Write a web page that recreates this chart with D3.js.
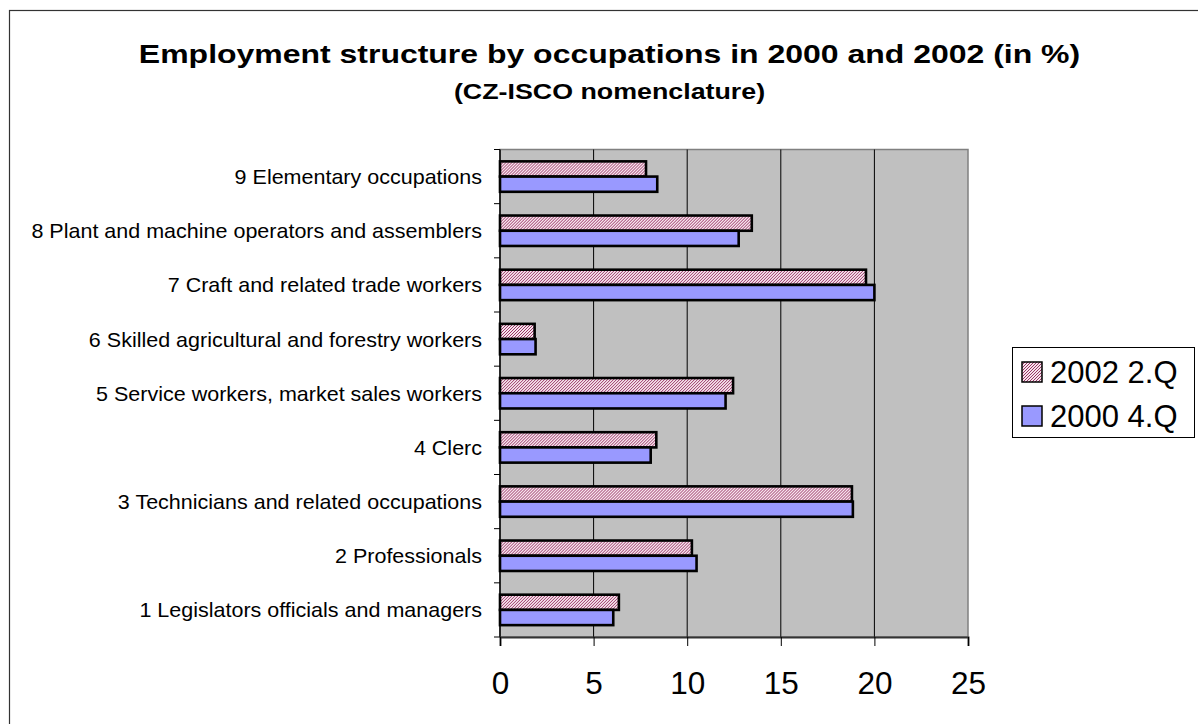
<!DOCTYPE html>
<meta charset="utf-8">
<style>
body { margin: 0; background: #fff; }
text { font-family: "Liberation Sans", Arial, sans-serif; fill: #000; }
</style>
<svg width="1198" height="724"></svg>
<script src="https://d3js.org/d3.v7.min.js"></script>
<script>

// categories top to bottom, as shown
var categories = [
  "9 Elementary occupations",
  "8 Plant and machine operators and assemblers",
  "7 Craft and related trade workers",
  "6 Skilled agricultural and forestry workers",
  "5 Service workers, market sales workers",
  "4 Clerc",
  "3 Technicians and related occupations",
  "2 Professionals",
  "1 Legislators officials and managers"
];
var seriesNames = ["2002 2.Q", "2000 4.Q"];
var q2002 = [7.8, 13.45, 19.55, 1.85, 12.45, 8.35, 18.8, 10.25, 6.35];
var q2000 = [8.4, 12.75, 20.0, 1.9, 12.05, 8.05, 18.85, 10.5, 6.05];
var xTicks = [0, 5, 10, 15, 20, 25];

var svg = d3.select("svg");

// outer frame
svg.append("rect")
    .attr("x", 9.5).attr("y", 10.5)
    .attr("width", 1300).attr("height", 800)
    .attr("fill", "none").attr("stroke", "#333").attr("stroke-width", 1.2);

var defs = svg.append("defs");
var pat = defs.append("pattern")
    .attr("id", "hatch")
    .attr("patternUnits", "userSpaceOnUse")
    .attr("width", 3).attr("height", 3);
pat.append("rect").attr("width", 3).attr("height", 3).attr("fill", "#f6e4ec");
pat.append("path")
    .attr("d", "M-1,1 l2,-2 M0,3 l3,-3 M2,4 l2,-2")
    .attr("stroke", "#993366").attr("stroke-width", 1);

var pLeft = 500, pRight = 968, pTop = 149.5, pBottom = 637;

var x = d3.scaleLinear().domain([0, 25]).range([pLeft, pRight]);
var y = d3.scaleBand().domain(categories).range([pTop, pBottom]);
var ys = d3.scaleBand().domain(seriesNames).range([0, y.bandwidth()]).paddingOuter(0.78);

var fills = { "2002 2.Q": "url(#hatch)", "2000 4.Q": "#9999ff" };

// plot background
svg.append("rect")
    .attr("x", pLeft).attr("y", pTop)
    .attr("width", pRight - pLeft).attr("height", pBottom - pTop)
    .attr("fill", "#c0c0c0").attr("stroke", "#808080").attr("stroke-width", 1.5);

// grid
svg.append("g").selectAll("line")
  .data(xTicks.slice(1, -1))
  .enter().append("line")
    .attr("x1", function(d) { return x(d); }).attr("x2", function(d) { return x(d); })
    .attr("y1", pTop).attr("y2", pBottom)
    .attr("stroke", "#000").attr("stroke-width", 1);

// bars
var rows = categories.map(function(c, i) {
  return { cat: c, vals: [{ s: seriesNames[0], v: q2002[i] }, { s: seriesNames[1], v: q2000[i] }] };
});

var grp = svg.append("g").selectAll("g")
  .data(rows)
  .enter().append("g")
    .attr("transform", function(d) { return "translate(0," + y(d.cat) + ")"; });

grp.selectAll("rect")
  .data(function(d) { return d.vals; })
  .enter().append("rect")
    .attr("x", x(0))
    .attr("y", function(d) { return ys(d.s); })
    .attr("width", function(d) { return x(d.v) - x(0); })
    .attr("height", ys.bandwidth())
    .attr("fill", function(d) { return fills[d.s]; })
    .attr("stroke", "#000").attr("stroke-width", 2.6);

// y axis (labels a touch wider than the font)
var labelSx = 1.024;
var yAxis = svg.append("g")
    .attr("transform", "translate(" + pLeft + ",0)")
    .call(d3.axisLeft(y).tickSize(0).tickPadding(18));
yAxis.select(".domain").remove();
yAxis.selectAll("text")
    .style("font-size", "21px")
    .attr("x", -18 / labelSx)
    .attr("transform", "scale(" + labelSx + ",1)")
    .attr("dy", "0.36em");
svg.append("g").selectAll("line")
  .data(d3.range(categories.length + 1))
  .enter().append("line")
    .attr("x1", pLeft - 6).attr("x2", pLeft)
    .attr("y1", function(i) { return pTop + i * y.step(); })
    .attr("y2", function(i) { return pTop + i * y.step(); })
    .attr("stroke", "#000");
svg.append("line")
    .attr("x1", pLeft).attr("x2", pLeft).attr("y1", pTop).attr("y2", pBottom)
    .attr("stroke", "#000").attr("stroke-width", 1.5);

// x axis
var xAxis = svg.append("g")
    .attr("transform", "translate(0," + pBottom + ")")
    .call(d3.axisBottom(x).tickValues(xTicks).tickSize(9).tickPadding(25.5));
xAxis.select(".domain").attr("stroke", "#333").attr("stroke-width", 2);
xAxis.selectAll("text").style("font-size", "31.5px");

// titles, stretched horizontally like the original
var titleSx = 1.23;
svg.append("g")
    .attr("transform", "translate(609.5,63.3) scale(" + titleSx + ",1)")
  .append("text")
    .attr("text-anchor", "middle")
    .style("font-size", "26px").style("font-weight", "bold")
    .text("Employment structure by occupations in 2000 and 2002 (in %)");
svg.append("g")
    .attr("transform", "translate(609.5,99) scale(" + titleSx + ",1)")
  .append("text")
    .attr("text-anchor", "middle")
    .style("font-size", "21.8px").style("font-weight", "bold")
    .text("(CZ-ISCO nomenclature)");

// legend
var lg = svg.append("g");
lg.append("rect")
    .attr("x", 1012.5).attr("y", 347.5)
    .attr("width", 182).attr("height", 90)
    .attr("fill", "#fff").attr("stroke", "#000").attr("stroke-width", 1);
var item = lg.selectAll("g")
  .data(seriesNames)
  .enter().append("g")
    .attr("transform", function(d, i) { return "translate(1022," + (362 + i * 44) + ")"; });
item.append("rect")
    .attr("width", 20).attr("height", 20)
    .attr("fill", function(d) { return fills[d]; })
    .attr("stroke", "#000").attr("stroke-width", 1.5);
item.append("text")
    .attr("x", 28).attr("y", 21)
    .style("font-size", "31px")
    .text(function(d) { return d; });

</script>
